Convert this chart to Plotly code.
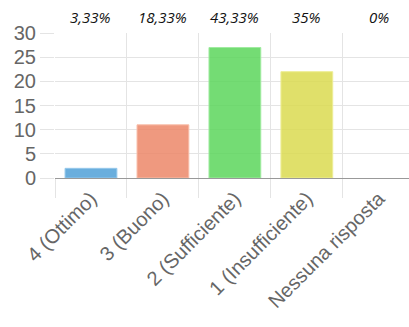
import plotly.graph_objects as go

categories = ["4 (Ottimo)", "3 (Buono)", "2 (Sufficiente)", "1 (Insufficiente)", "Nessuna risposta"]
counts = [2, 11, 27, 22, 0]
percent_labels = ["3,33%", "18,33%", "43,33%", "35%", "0%"]
bar_colors = ["rgba(80,160,215,0.85)", "rgba(236,135,105,0.85)",
              "rgba(92,214,92,0.85)", "rgba(218,218,80,0.85)", "rgba(0,0,0,0)"]
border_colors = ["rgba(150,200,235,1)", "rgba(248,190,170,1)",
                 "rgba(160,235,160,1)", "rgba(238,238,150,1)", "rgba(0,0,0,0)"]

fig = go.Figure()
fig.add_trace(go.Bar(
    x=categories, y=counts,
    marker=dict(color=bar_colors, line=dict(color=border_colors, width=1)),
    width=0.72,
    hoverinfo="skip",
))

# percentage labels above each category
for cat, lab in zip(categories, percent_labels):
    fig.add_annotation(
        x=cat, y=1.0, xref="x", yref="paper", yanchor="bottom", yshift=4,
        text=f"<i>{lab}</i>", showarrow=False,
        font=dict(family="Open Sans, Liberation Sans, sans-serif", size=15, color="#111"),
    )

fig.update_layout(
    width=409, height=327,
    margin=dict(l=55, r=0, t=33, b=149),
    plot_bgcolor="white", paper_bgcolor="white",
    showlegend=False,
    font=dict(family="Liberation Sans, Arial, sans-serif", color="#666"),
)
fig.update_xaxes(
    type="category",
    range=[-0.5, 4.42],
    tickson="boundaries",
    showgrid=True, gridcolor="#e4e4e4", gridwidth=1,
    ticks="outside", ticklen=19, tickcolor="#e4e4e4",
    tickangle=-45,
    tickfont=dict(size=20, color="#666"),
    showline=True, linecolor="#999", linewidth=1,
    zeroline=False,
)
fig.update_yaxes(
    range=[0, 30], dtick=5,
    showgrid=True, gridcolor="#e4e4e4", gridwidth=1,
    ticks="outside", ticklen=14, tickcolor="#e4e4e4",
    tickfont=dict(size=20, color="#666"),
    zeroline=False, showline=False,
)

fig.write_html("out.html")
